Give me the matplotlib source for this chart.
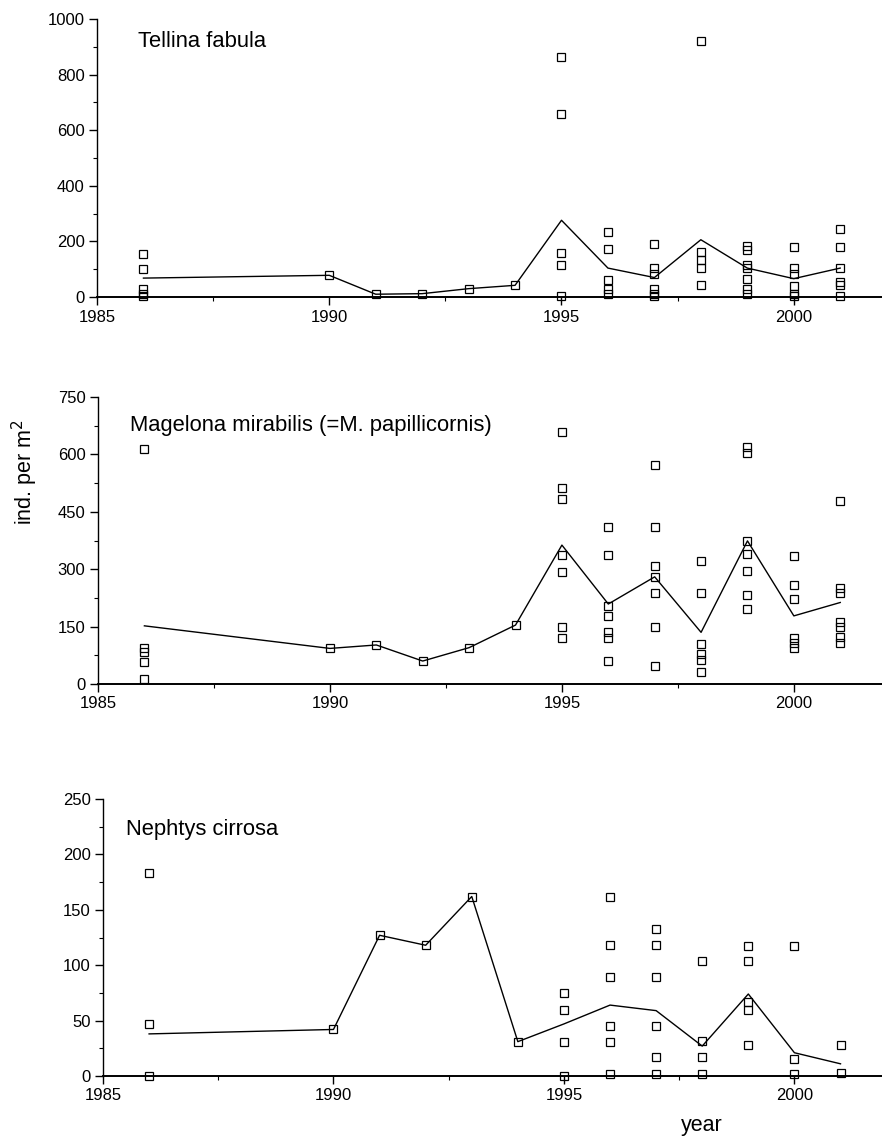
import matplotlib
matplotlib.use("Agg")
import matplotlib.pyplot as plt
from matplotlib.ticker import MultipleLocator

plt.rcParams['font.family'] = ['Liberation Sans', 'DejaVu Sans']

years = [1986, 1990, 1991, 1992, 1993, 1994, 1995, 1996, 1997, 1998, 1999, 2000, 2001]

# single samples per year (ind. per m2)
tellina_pts = [
    [155, 100, 28, 12, 5], [78], [10], [12], [30], [42],
    [864, 658, 160, 116, 2], [233, 174, 60, 30, 12],
    [190, 104, 84, 30, 12, 2], [921, 162, 132, 104, 44],
    [182, 168, 116, 104, 66, 30, 12], [180, 104, 82, 40, 12, 2],
    [244, 180, 104, 54, 42, 2],
]
tellina_line = [68, 78, 10, 12, 30, 42, 276, 104, 70, 206, 104, 66, 104]

magelona_pts = [
    [615, 95, 84, 58, 13], [93], [102], [60], [95], [154],
    [659, 513, 483, 337, 292, 148, 119], [411, 337, 205, 178, 135, 119, 60],
    [572, 411, 308, 280, 237, 150, 47], [322, 237, 104, 78, 63, 32],
    [620, 604, 374, 339, 296, 232, 195], [335, 258, 221, 121, 106, 93],
    [478, 250, 237, 163, 150, 124, 106],
]
magelona_line = [152, 93, 102, 60, 95, 154, 363, 209, 280, 135, 374, 178, 213]

nephtys_pts = [
    [183, 47, 0], [42], [127], [118], [162], [31],
    [75, 60, 31, 0], [162, 118, 89, 45, 31, 2], [133, 118, 89, 45, 17, 2],
    [104, 32, 17, 2], [117, 104, 67, 60, 28], [117, 15, 2], [28, 3],
]
nephtys_line = [38, 42, 127, 118, 162, 31, 47, 64, 59, 27, 74, 21, 11]

panels = [
    ("Tellina fabula", tellina_pts, tellina_line, 1000, 200,
     [97 / 882, 1 - 297 / 1140, 785 / 882, 278 / 1140], (0.052, 0.92)),
    ("Magelona mirabilis (=M. papillicornis)", magelona_pts, magelona_line, 750, 150,
     [98 / 882, 1 - 684 / 1140, 784 / 882, 287 / 1140], (0.041, 0.902)),
    ("Nephtys cirrosa", nephtys_pts, nephtys_line, 250, 50,
     [103 / 882, 1 - 1076 / 1140, 779 / 882, 277 / 1140], (0.03, 0.89)),
]

fig = plt.figure(figsize=(8.82, 11.4), dpi=100)

for name, pts, line, ymax, ystep, rect, tpos in panels:
    ax = fig.add_axes(rect)
    xs, ys = [], []
    for yr, vals in zip(years, pts):
        xs += [yr] * len(vals)
        ys += vals
    ax.plot(xs, ys, linestyle='none', marker='s', markersize=5.3,
            markerfacecolor='none', markeredgecolor='black',
            markeredgewidth=0.9, clip_on=False, zorder=3)
    ax.plot(years, line, color='black', linewidth=1.0, zorder=2)

    ax.set_xlim(1985, 2001.9)
    ax.set_ylim(0, ymax)
    ax.spines['top'].set_visible(False)
    ax.spines['right'].set_visible(False)
    ax.spines['left'].set_linewidth(1.0)
    ax.spines['bottom'].set_linewidth(1.4)
    ax.xaxis.set_major_locator(MultipleLocator(5))
    ax.xaxis.set_minor_locator(MultipleLocator(2.5))
    ax.yaxis.set_major_locator(MultipleLocator(ystep))
    ax.yaxis.set_minor_locator(MultipleLocator(ystep / 2))
    ax.tick_params(axis='both', which='major', length=6, width=1.0,
                   labelsize=12, pad=3)
    ax.tick_params(axis='both', which='minor', length=3, width=0.8)
    ax.set_xticklabels([str(int(t)) for t in ax.get_xticks()])
    ax.patch.set_visible(False)
    ax.text(tpos[0], tpos[1], name, transform=ax.transAxes,
            fontsize=15.8, va='center', ha='left')

fig.text(25 / 882, 1 - 472 / 1140, "ind. per m$^2$", rotation=90,
         fontsize=15.5, ha='center', va='center')
fig.text(702 / 882, 1 - 1125 / 1140, "year", fontsize=15.5,
         ha='center', va='center')

fig.savefig("out.png", dpi=100)
